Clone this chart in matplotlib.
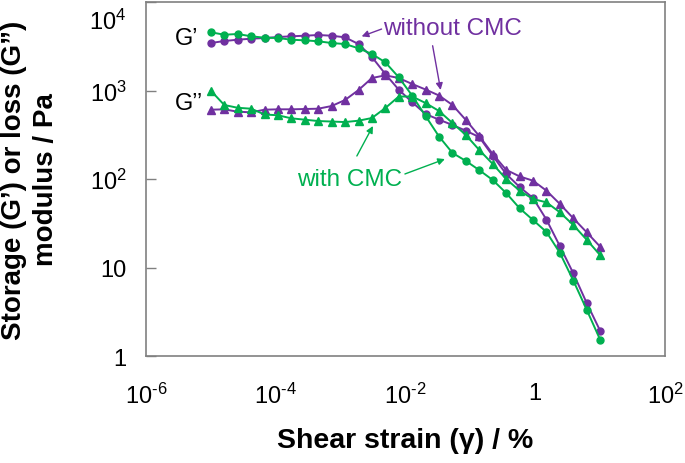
import numpy as np
import matplotlib
matplotlib.use('Agg')
import matplotlib.pyplot as plt
from matplotlib.transforms import ScaledTranslation

plt.rcParams['font.family'] = ['Liberation Sans', 'DejaVu Sans']
plt.rcParams['mathtext.default'] = 'regular'

# shear strain (%), 30 points per sweep
strain = [1.00e-5, 1.61e-5, 2.59e-5, 4.18e-5, 6.72e-5, 1.08e-4, 1.74e-4, 2.81e-4,
          4.52e-4, 7.28e-4, 1.17e-3, 1.89e-3, 3.04e-3, 4.89e-3, 7.88e-3, 1.27e-2,
          2.04e-2, 3.29e-2, 5.30e-2, 8.53e-2, 0.137, 0.221, 0.356, 0.574, 0.924,
          1.49, 2.40, 3.86, 6.21, 10.0]

# without CMC (purple)
g1_without = [3440, 3625, 3750, 3850, 3920, 4020, 4100, 4160, 4240, 4160,
              3990, 3350, 2390, 1536, 1021, 736, 543, 468, 408, 351,
              298, 183, 114, 81.3, 61, 34.7, 17.4, 8.6, 3.97, 1.93]
g2_without = [607, 613, 576, 567, 607, 613, 613, 618, 623, 668,
              781, 1013, 1384, 1485, 1384, 1184, 1026, 878, 686, 464,
              306, 192, 127, 107, 95.7, 73.8, 52.2, 36, 25, 17.2]

# with CMC (green)
g1_with = [4550, 4270, 4350, 4100, 3950, 3920, 3750, 3690, 3600, 3440,
           3350, 3000, 2585, 2083, 1410, 874, 515, 302, 197, 160,
           126, 97.5, 69.5, 46.7, 34.4, 25.2, 14.6, 7.13, 3.33, 1.53]
g2_with = [995, 686, 638, 623, 536, 525, 485, 468, 452, 446,
           440, 456, 489, 634, 855, 855, 722, 587, 429, 314,
           213, 148, 100, 73.8, 59.4, 54.5, 42, 30.2, 20.6, 13.8]

xticks = [1e-6, 1e-4, 1e-2, 1, 1e2]
xticklabels = ['$10^{\u20106}$', '$10^{\u20104}$', '$10^{\u20102}$', '1', '$10^{2}$']
yticks = [1, 10, 1e2, 1e3, 1e4]
yticklabels = ['1', '10', '$10^{2}$', '$10^{3}$', '$10^{4}$']

purple = '#7030A0'
green = '#00B050'

fig = plt.figure(figsize=(6.85, 4.64), dpi=100)
ax = fig.add_axes([0.2131, 0.2306, 0.7577, 0.7629])

ax.plot(strain, g1_without, '-o', color=purple, lw=1.4, ms=5, zorder=3)
ax.plot(strain, g2_without, '-^', color=purple, lw=1.4, ms=6, zorder=3)
ax.plot(strain, g1_with, '-o', color=green, lw=1.4, ms=5, zorder=3)
ax.plot(strain, g2_with, '-^', color=green, lw=1.4, ms=6, zorder=3)

ax.set_xscale('log')
ax.set_yscale('log')
ax.set_xlim(1e-6, 1e2)
ax.set_ylim(1, 1e4)

ax.set_xticks(xticks)
ax.set_xticklabels(xticklabels)
ax.set_yticks(yticks)
ax.set_yticklabels(yticklabels)
ax.minorticks_off()
ax.tick_params(axis='x', length=0, pad=19, labelsize=17)
ax.tick_params(axis='y', direction='in', length=7, width=1, pad=14,
               labelsize=17, color='#808080')

# the top label sits lower, inside the figure
top_lab = ax.get_yticklabels()[-1]
top_lab.set_transform(top_lab.get_transform() + ScaledTranslation(0, -12 / 72, fig.dpi_scale_trans))

for s in ax.spines.values():
    s.set_color('#808080')
    s.set_linewidth(1.2)

ax.set_xlabel('Shear strain (γ) / %', fontsize=20.5, fontweight='bold', labelpad=14)
ax.set_ylabel('Storage (G’) or loss (G”)\nmodulus / Pa', fontsize=20,
              fontweight='bold', linespacing=1.3)
ax.yaxis.set_label_coords(-0.168, 0.5)

ax.text(2.8e-6, 3920, 'G’', fontsize=17, va='center')
ax.text(2.8e-6, 722, 'G’’', fontsize=17, va='center')

ax.text(4.5e-3, 5100, 'without CMC', fontsize=17.5, color=purple, va='center')
arr_p = dict(arrowstyle='-|>', color=purple, lw=1, mutation_scale=10, shrinkA=0, shrinkB=0)
ax.annotate('', xy=(2.11e-3, 4090), xytext=(4.28e-3, 4950), arrowprops=arr_p)
ax.annotate('', xy=(3.48e-2, 1014), xytext=(2.62e-2, 3206), arrowprops=arr_p)

ax.text(2.12e-4, 100, 'with CMC', fontsize=17.5, color=green, va='center')
arr_g = dict(arrowstyle='-|>', color=green, lw=1, mutation_scale=10, shrinkA=0, shrinkB=0)
ax.annotate('', xy=(3.15e-3, 397), xytext=(1.78e-3, 182), arrowprops=arr_g)
ax.annotate('', xy=(4.05e-2, 168), xytext=(9.8e-3, 114), arrowprops=arr_g)

fig.savefig('out.png', dpi=100)
